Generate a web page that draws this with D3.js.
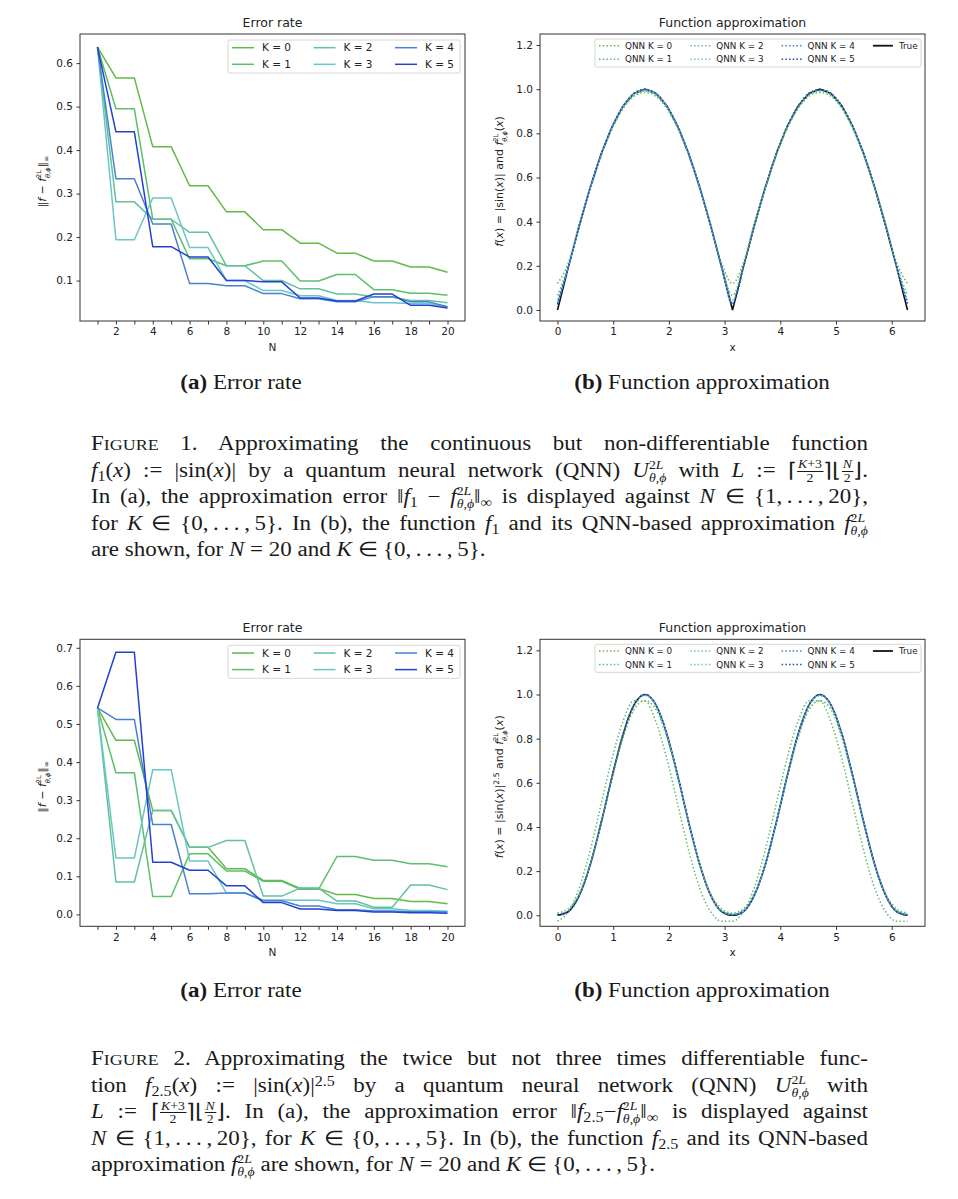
<!DOCTYPE html>
<html><head><meta charset="utf-8">
<script src="https://cdn.jsdelivr.net/npm/d3@7/dist/d3.min.js"></script>
<style>
html,body{margin:0;padding:0;background:#fff}
body{width:958px;height:1199px;position:relative;overflow:hidden}
svg{position:absolute;left:0;top:0}
.tick text{font-family:"DejaVu Sans",sans-serif;font-size:10.5px;fill:#222}
.tick line{stroke:#333;stroke-width:1}
.cap{position:absolute;left:91px;top:0;width:777px;font-family:"Liberation Serif","Times New Roman",serif;font-size:20px;color:#1a1a1a}
.ln{position:absolute;left:0;height:26px;line-height:26px;text-align:justify;text-align-last:justify;transform-origin:0 0}
.ln.last{text-align:left;text-align-last:left}
.meas{display:inline-block;white-space:nowrap}
.cap sub,.cap sup{font-size:0.7em;line-height:0}
.cap sub{vertical-align:-0.25em}
.cap sup{vertical-align:0.45em}
.ss{display:inline-block;font-size:12px;line-height:13px;vertical-align:-5px;text-align:left;text-align-last:left}
.ss span{display:block}
.fr{display:inline-block;font-size:12px;line-height:12.5px;vertical-align:-5px;text-align:center;text-align-last:center}
.fr span{display:block;padding:0 1px}
.fr .nu{border-bottom:1px solid #1a1a1a}
.sm{font-size:0.78em}
</style></head><body>
<script>
// ---------------- data ----------------
const N_VALUES = [1,2,3,4,5,6,7,8,9,10,11,12,13,14,15,16,17,18,19,20];
const K_LABELS = ["K = 0","K = 1","K = 2","K = 3","K = 4","K = 5"];
const QNN_LABELS = ["QNN K = 0","QNN K = 1","QNN K = 2","QNN K = 3","QNN K = 4","QNN K = 5"];
const TRUE_LABEL = "True";
const K_COLORS = ["#62ba46","#5dbf69","#62c29b","#69c6c6","#4a80cf","#2242cf"];

// Figure 1(a): error, f = |sin x|
const ERR1_K0 = [0.637,0.566,0.566,0.408,0.408,0.318,0.318,0.258,0.258,0.217,0.217,0.186,0.186,0.163,0.163,0.145,0.145,0.131,0.131,0.119];
const ERR1_K1 = [0.637,0.495,0.495,0.241,0.241,0.150,0.150,0.134,0.134,0.145,0.145,0.099,0.099,0.114,0.114,0.079,0.079,0.071,0.071,0.066];
const ERR1_K2 = [0.637,0.281,0.281,0.241,0.241,0.211,0.211,0.134,0.134,0.100,0.100,0.081,0.081,0.069,0.069,0.062,0.062,0.054,0.054,0.049];
const ERR1_K3 = [0.637,0.194,0.194,0.290,0.290,0.176,0.176,0.100,0.100,0.077,0.077,0.065,0.065,0.054,0.054,0.049,0.049,0.047,0.047,0.039];
const ERR1_K4 = [0.637,0.334,0.334,0.230,0.230,0.093,0.093,0.088,0.088,0.070,0.070,0.058,0.058,0.051,0.051,0.063,0.063,0.051,0.051,0.040];
const ERR1_K5 = [0.637,0.442,0.442,0.178,0.178,0.154,0.154,0.100,0.100,0.097,0.097,0.060,0.060,0.053,0.053,0.069,0.069,0.043,0.043,0.037];

// Figure 2(a): error, f = |sin x|^2.5
const ERR2_K0 = [0.542,0.457,0.457,0.273,0.273,0.176,0.176,0.120,0.120,0.089,0.089,0.068,0.068,0.052,0.052,0.042,0.042,0.034,0.034,0.028];
const ERR2_K1 = [0.542,0.372,0.372,0.047,0.047,0.159,0.159,0.114,0.114,0.087,0.087,0.066,0.066,0.152,0.152,0.142,0.142,0.133,0.133,0.125];
const ERR2_K2 = [0.542,0.085,0.085,0.273,0.273,0.176,0.176,0.194,0.194,0.048,0.048,0.069,0.069,0.035,0.035,0.019,0.019,0.077,0.077,0.065];
const ERR2_K3 = [0.542,0.148,0.148,0.380,0.380,0.140,0.140,0.056,0.056,0.038,0.038,0.037,0.037,0.028,0.028,0.015,0.015,0.010,0.010,0.008];
const ERR2_K4 = [0.542,0.512,0.512,0.236,0.236,0.054,0.054,0.056,0.056,0.036,0.036,0.022,0.022,0.012,0.012,0.009,0.009,0.007,0.007,0.006];
const ERR2_K5 = [0.542,0.688,0.688,0.137,0.137,0.116,0.116,0.075,0.075,0.031,0.031,0.014,0.014,0.010,0.010,0.006,0.006,0.004,0.004,0.003];

// x sample grid for function plots
const X_GRID = [0,0.196,0.393,0.589,0.785,0.982,1.178,1.374,1.571,1.767,1.963,2.160,2.356,2.553,2.749,2.945,3.142,3.338,3.534,3.731,3.927,4.123,4.320,4.516,4.712,4.909,5.105,5.301,5.498,5.694,5.890,6.087,6.283];

// Figure 1(b)
const TRUE1   = [0,.195,.383,.556,.707,.831,.924,.981,1,.981,.924,.831,.707,.556,.383,.195,0,.195,.383,.556,.707,.831,.924,.981,1,.981,.924,.831,.707,.556,.383,.195,0];
const QNN1_K0 = [.12,.215,.39,.55,.70,.822,.912,.968,.985,.968,.912,.822,.70,.55,.39,.215,.12,.215,.39,.55,.70,.822,.912,.968,.985,.968,.912,.822,.70,.55,.39,.215,.12];
const QNN1_K1 = [.066,.20,.382,.553,.704,.827,.919,.975,.992,.975,.919,.827,.704,.553,.382,.20,.066,.20,.382,.553,.704,.827,.919,.975,.992,.975,.919,.827,.704,.553,.382,.20,.066];
const QNN1_K2 = [.045,.198,.383,.555,.706,.829,.921,.977,.994,.977,.921,.829,.706,.555,.383,.198,.045,.198,.383,.555,.706,.829,.921,.977,.994,.977,.921,.829,.706,.555,.383,.198,.045];
const QNN1_K3 = [.035,.197,.384,.556,.707,.830,.922,.979,.996,.979,.922,.830,.707,.556,.384,.197,.035,.197,.384,.556,.707,.830,.922,.979,.996,.979,.922,.830,.707,.556,.384,.197,.035];
const QNN1_K4 = [.03,.196,.384,.556,.707,.831,.923,.980,.998,.980,.923,.831,.707,.556,.384,.196,.03,.196,.384,.556,.707,.831,.923,.980,.998,.980,.923,.831,.707,.556,.384,.196,.03];
const QNN1_K5 = [.025,.196,.383,.556,.707,.831,.924,.981,.999,.981,.924,.831,.707,.556,.383,.196,.025,.196,.383,.556,.707,.831,.924,.981,.999,.981,.924,.831,.707,.556,.383,.196,.025];

// Figure 2(b)
const TRUE2   = [0,.017,.091,.230,.420,.630,.821,.953,1,.953,.821,.630,.420,.230,.091,.017,0,.017,.091,.230,.420,.630,.821,.953,1,.953,.821,.630,.420,.230,.091,.017,0];
const QNN2_K0 = [.01,.03,.097,.232,.418,.622,.805,.932,.972,.932,.805,.622,.418,.232,.097,.03,.01,.03,.097,.232,.418,.622,.805,.932,.972,.932,.805,.622,.418,.232,.097,.03,.01];
const QNN2_K1 = [-.027,.017,.126,.297,.505,.713,.880,.972,.970,.876,.709,.501,.293,.123,.016,-.027,-.027,.017,.126,.297,.505,.713,.880,.972,.970,.876,.709,.501,.293,.123,.016,-.027,-.027];
const QNN2_K2 = [.005,.02,.093,.231,.420,.628,.818,.950,.995,.950,.818,.628,.420,.231,.093,.02,.005,.02,.093,.231,.420,.628,.818,.950,.995,.950,.818,.628,.420,.231,.093,.02,.005];
const QNN2_K3 = [.003,.018,.092,.230,.420,.629,.820,.952,.997,.952,.820,.629,.420,.230,.092,.018,.003,.018,.092,.230,.420,.629,.820,.952,.997,.952,.820,.629,.420,.230,.092,.018,.003];
const QNN2_K4 = [.002,.017,.091,.230,.420,.630,.821,.953,.999,.953,.821,.630,.420,.230,.091,.017,.002,.017,.091,.230,.420,.630,.821,.953,.999,.953,.821,.630,.420,.230,.091,.017,.002];
const QNN2_K5 = [.001,.017,.091,.230,.420,.630,.821,.953,1,.953,.821,.630,.420,.230,.091,.017,.001,.017,.091,.230,.420,.630,.821,.953,1,.953,.821,.630,.420,.230,.091,.017,.001];

// ticks
const ERR1_YTICKS = [0.1,0.2,0.3,0.4,0.5,0.6];
const ERR2_YTICKS = [0.0,0.1,0.2,0.3,0.4,0.5,0.6,0.7];
const FUN_XTICKS = [0,1,2,3,4,5,6];
const FUN_YTICKS = [0.0,0.2,0.4,0.6,0.8,1.0,1.2];
const FUN_YLIM = [-0.05,1.25];

// ---------------- drawing ----------------
const svg = d3.select("body").append("svg").attr("width",958).attr("height",1199);
const SANS = "DejaVu Sans, sans-serif";

function frame(g,L,R,T,B){
  g.append("rect").attr("x",L).attr("y",T).attr("width",R-L).attr("height",B-T)
   .attr("fill","none").attr("stroke","#333").attr("stroke-width",1);
}
function styleAxis(sel){ sel.select(".domain").remove(); }

// math-like text built from tspans
function mathText(g, x, y, rot, size, parts){
  const grp = g.append("g").attr("transform",`translate(${x},${y}) rotate(${rot})`);
  const txt = grp.append("text").attr("font-family",SANS).attr("font-size",size).attr("fill","#222");
  let off = 0, pendingDx = 0;
  function add(t, italic, fs, targetOff){
    const ts = txt.append("tspan").text(t).attr("font-size",fs).attr("dy",targetOff-off);
    if(pendingDx) ts.attr("dx",pendingDx);
    pendingDx = 0;
    if(italic) ts.attr("font-style","italic");
    off = targetOff;
    return ts;
  }
  parts.forEach(p=>{
    if(p.k==="sup") add(p.t,p.i,size*0.7,-size*0.4);
    else if(p.k==="sub") add(p.t,p.i,size*0.7,size*0.25);
    else if(p.k==="ss"){
      const a = add(p.sp,false,size*0.6,-size*0.45);
      const w1 = a.node().getComputedTextLength();
      pendingDx = -w1;
      const b = add(p.sb,true,size*0.6,size*0.32);
      const w2 = b.node().getComputedTextLength();
      pendingDx = Math.max(0,w1-w2);
    } else add(p.t,p.i,size,0);
  });
  const w = txt.node().getComputedTextLength();
  txt.attr("x",-w/2);
  return grp;
}

function legend(g, x0, y0, w, h, colW, lineLen, textOff, rowYs, fs, items){
  g.append("rect").attr("x",x0).attr("y",y0).attr("width",w).attr("height",h).attr("rx",2)
   .attr("fill","#fff").attr("fill-opacity",0.85).attr("stroke","#d6d6d6").attr("stroke-width",1);
  items.forEach((it,i)=>{
    const c = Math.floor(i/2), r = i%2;
    const lx = x0 + 4 + c*colW, ly = y0 + rowYs[r];
    g.append("line").attr("x1",lx).attr("x2",lx+lineLen).attr("y1",ly).attr("y2",ly)
     .attr("stroke",it.color).attr("stroke-width",it.width||1.5)
     .attr("stroke-dasharray",it.dash||null);
    g.append("text").attr("x",lx+textOff).attr("y",ly).attr("dy","0.35em")
     .attr("font-family",SANS).attr("font-size",fs).attr("fill","#222").text(it.label);
  });
}

function errorChart(top, series, yTicks, ylabelParts){
  const L=80, R=465, T=top, B=top+287;
  const g = svg.append("g");
  const all = series.flat();
  const lo=d3.min(all), hi=d3.max(all), pad=(hi-lo)*0.05;
  const xlo=d3.min(N_VALUES), xhi=d3.max(N_VALUES), xpad=(xhi-xlo)*0.05;
  const x = d3.scaleLinear().domain([xlo-xpad,xhi+xpad]).range([L,R]);
  const y = d3.scaleLinear().domain([lo-pad,hi+pad]).range([B,T]);
  const line = d3.line().x((d,j)=>x(N_VALUES[j])).y(d=>y(d));
  series.forEach((s,i)=>{
    g.append("path").datum(s).attr("d",line).attr("fill","none")
     .attr("stroke",K_COLORS[i]).attr("stroke-width",1.5).attr("stroke-linejoin","round");
  });
  g.append("g").attr("transform",`translate(0,${B})`)
   .call(d3.axisBottom(x).tickValues(N_VALUES).tickFormat(d=>d%2===0?d:"").tickSize(3.5).tickPadding(3.5)).call(styleAxis);
  g.append("g").attr("transform",`translate(${L},0)`)
   .call(d3.axisLeft(y).tickValues(yTicks).tickFormat(d3.format(".1f")).tickSize(3.5).tickPadding(3.5)).call(styleAxis);
  frame(g,L,R,T,B);
  g.append("text").attr("x",(L+R)/2).attr("y",T-7).attr("text-anchor","middle")
   .attr("font-family",SANS).attr("font-size",12.5).attr("fill","#222").text("Error rate");
  g.append("text").attr("x",(L+R)/2).attr("y",B+30).attr("text-anchor","middle")
   .attr("font-family",SANS).attr("font-size",10.5).attr("fill","#222").text("N");
  mathText(g, 46, (T+B)/2, -90, 11, ylabelParts);
  legend(g, 228, T+6, 232, 33, 81.5, 22, 30, [7.7,24.3], 10.5,
    K_LABELS.map((l,i)=>({label:l,color:K_COLORS[i]})));
}

function funcChart(top, trueVals, qnn, ylabelParts, smoothTrue){
  const L=540, R=925, T=top, B=top+287;
  const g = svg.append("g");
  const xlo=d3.min(X_GRID), xhi=d3.max(X_GRID), xpad=(xhi-xlo)*0.05;
  const x = d3.scaleLinear().domain([xlo-xpad,xhi+xpad]).range([L,R]);
  const y = d3.scaleLinear().domain(FUN_YLIM).range([B,T]);
  const smooth = d3.line().x((d,j)=>x(X_GRID[j])).y(d=>y(d)).curve(d3.curveMonotoneX);
  const lin = d3.line().x((d,j)=>x(X_GRID[j])).y(d=>y(d));
  g.append("path").datum(trueVals).attr("d",smoothTrue?smooth:lin).attr("fill","none")
   .attr("stroke","#111").attr("stroke-width",1.6);
  qnn.forEach((s,i)=>{
    g.append("path").datum(s).attr("d",smooth).attr("fill","none")
     .attr("stroke",K_COLORS[i]).attr("stroke-width",1.5).attr("stroke-dasharray","1.5,2.2");
  });
  g.append("g").attr("transform",`translate(0,${B})`)
   .call(d3.axisBottom(x).tickValues(FUN_XTICKS).tickFormat(d3.format("d")).tickSize(3.5).tickPadding(3.5)).call(styleAxis);
  g.append("g").attr("transform",`translate(${L},0)`)
   .call(d3.axisLeft(y).tickValues(FUN_YTICKS).tickFormat(d3.format(".1f")).tickSize(3.5).tickPadding(3.5)).call(styleAxis);
  frame(g,L,R,T,B);
  g.append("text").attr("x",(L+R)/2).attr("y",T-7).attr("text-anchor","middle")
   .attr("font-family",SANS).attr("font-size",12.5).attr("fill","#222").text("Function approximation");
  g.append("text").attr("x",(L+R)/2).attr("y",B+30).attr("text-anchor","middle")
   .attr("font-family",SANS).attr("font-size",10.5).attr("fill","#222").text("x");
  mathText(g, 503, (T+B)/2, -90, 11, ylabelParts);
  const items = QNN_LABELS.map((l,i)=>({label:l,color:K_COLORS[i],dash:"1.5,2.2"}));
  items.push({label:TRUE_LABEL,color:"#111",width:1.8});
  legend(g, 595, T+5, 326, 28, 91.3, 20, 26, [6.7,20.3], 8.8, items);
}

const errLabel = [
  {t:"\u2016"},{t:"f",i:true},{t:" \u2212 "},{t:"f",i:true},
  {k:"ss",sp:"2L",sb:"\u03b8,\u03d5"},{t:"\u2016"},{k:"sub",t:"\u221e"}
];
const fLabel1 = [
  {t:"f",i:true},{t:"("},{t:"x",i:true},{t:") = |sin("},{t:"x",i:true},{t:")| and "},
  {t:"f",i:true},{k:"ss",sp:"2L",sb:"\u03b8,\u03d5"},{t:"("},{t:"x",i:true},{t:")"}
];
const fLabel2 = [
  {t:"f",i:true},{t:"("},{t:"x",i:true},{t:") = |sin("},{t:"x",i:true},{t:")|"},{k:"sup",t:"2.5"},{t:" and "},
  {t:"f",i:true},{k:"ss",sp:"2L",sb:"\u03b8,\u03d5"},{t:"("},{t:"x",i:true},{t:")"}
];

errorChart(34, [ERR1_K0,ERR1_K1,ERR1_K2,ERR1_K3,ERR1_K4,ERR1_K5], ERR1_YTICKS, errLabel);
funcChart(34, TRUE1, [QNN1_K0,QNN1_K1,QNN1_K2,QNN1_K3,QNN1_K4,QNN1_K5], fLabel1, false);
errorChart(639.3, [ERR2_K0,ERR2_K1,ERR2_K2,ERR2_K3,ERR2_K4,ERR2_K5], ERR2_YTICKS, errLabel);
funcChart(639.3, TRUE2, [QNN2_K0,QNN2_K1,QNN2_K2,QNN2_K3,QNN2_K4,QNN2_K5], fLabel2, true);

// sub-captions (serif, widened to mimic Computer Modern)
const CM_SCALE = 1.15;
function subcap(cx, y, tag, txt){
  const t = svg.append("text").attr("transform",`translate(${cx},${y}) scale(${CM_SCALE},1)`)
    .attr("text-anchor","middle")
    .attr("font-family","Liberation Serif, serif").attr("font-size",20).attr("fill","#1a1a1a");
  t.append("tspan").attr("font-weight","bold").text(tag);
  t.append("tspan").text(" "+txt);
}
subcap(241, 389, "(a)", "Error rate");
subcap(702, 389, "(b)", "Function approximation");
subcap(241, 997, "(a)", "Error rate");
subcap(702, 997, "(b)", "Function approximation");

// captions
const ss = `<span class="ss"><span>2<i>L</i></span><span><i>θ</i>,<i>ϕ</i></span></span>`;
const fTh = `<i>f</i>${ss}`;
const fr = (n,d)=>`<span class="fr"><span class="nu">${n}</span><span class="de">${d}</span></span>`;
const Ldef = `<i>L</i> := ⌈${fr("<i>K</i>+3","2")}⌉⌊${fr("<i>N</i>","2")}⌋`;
const dots = `&thinsp;.&thinsp;.&thinsp;.&thinsp;`;
const r1 = `{1,${dots},&thinsp;20}`, r0 = `{0,${dots},&thinsp;5}`;

const CAP1 = [
  `F<span class="sm">IGURE</span> 1. Approximating the continuous but non-differentiable function`,
  `<i>f</i><sub>1</sub>(<i>x</i>) := |sin(<i>x</i>)| by a quantum neural network (QNN) <i>U</i>${ss} with ${Ldef}.`,
  `In (a), the approximation error ‖<i>f</i><sub>1</sub> − ${fTh}‖<sub>∞</sub> is displayed against <i>N</i> ∈ ${r1},`,
  `for <i>K</i> ∈ ${r0}. In (b), the function <i>f</i><sub>1</sub> and its QNN-based approximation ${fTh}`,
  `are shown, for <i>N</i> = 20 and <i>K</i> ∈ ${r0}.`
];
const CAP2 = [
  `F<span class="sm">IGURE</span> 2. Approximating the twice but not three times differentiable func-`,
  `tion <i>f</i><sub>2.5</sub>(<i>x</i>) := |sin(<i>x</i>)|<sup>2.5</sup> by a quantum neural network (QNN) <i>U</i>${ss} with`,
  `${Ldef}. In (a), the approximation error ‖<i>f</i><sub>2.5</sub>−${fTh}‖<sub>∞</sub> is displayed against`,
  `<i>N</i> ∈ ${r1}, for <i>K</i> ∈ ${r0}. In (b), the function <i>f</i><sub>2.5</sub> and its QNN-based`,
  `approximation ${fTh} are shown, for <i>N</i> = 20 and <i>K</i> ∈ ${r0}.`
];
const CAP_W = 777;
function caption(lines, baseline0, step){
  const box = d3.select("body").append("div").attr("class","cap");
  lines.forEach((h,i)=>{
    const ln = box.append("div").attr("class","ln"+(i===lines.length-1?" last":""))
      .style("top",(baseline0 + i*step - 19.75)+"px");
    // measure natural width
    const m = ln.append("span").attr("class","meas").html(h);
    const w = m.node().getBoundingClientRect().width;
    m.remove();
    const s = Math.min(CM_SCALE, (CAP_W-1)/w);
    ln.style("width",(CAP_W/s)+"px").style("transform",`scaleX(${s})`).html(h);
  });
}
caption(CAP1, 450, 26.5);
caption(CAP2, 1065, 26.5);
</script>
</body></html>
